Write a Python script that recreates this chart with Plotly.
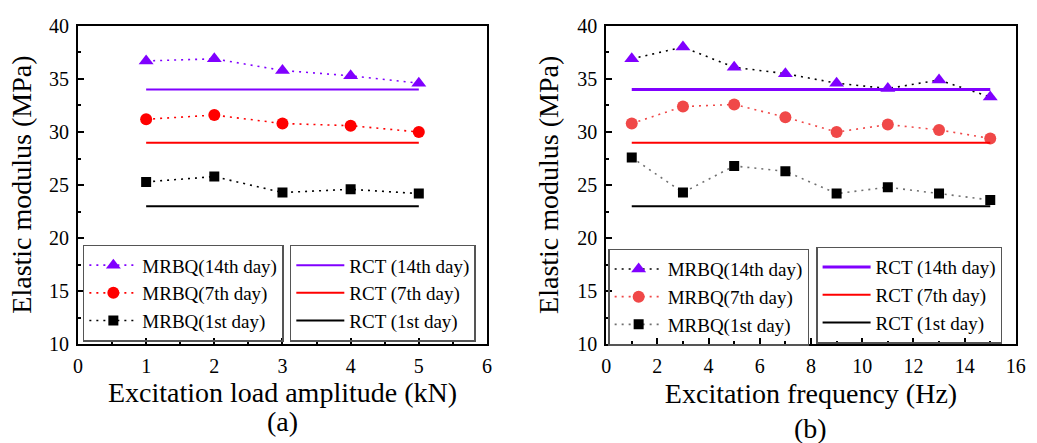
import plotly.graph_objects as go

# ---- data ----
amp_x = [1, 2, 3, 4, 5]
amp_14 = [36.7, 36.9, 35.8, 35.3, 34.6]
amp_7 = [31.2, 31.6, 30.8, 30.6, 30.0]
amp_1 = [25.3, 25.8, 24.3, 24.6, 24.2]

freq_x = [1, 3, 5, 7, 9, 11, 13, 15]
freq_14 = [36.9, 38.0, 36.1, 35.5, 34.6, 34.1, 34.9, 33.3]
freq_7 = [30.8, 32.4, 32.6, 31.4, 30.0, 30.7, 30.2, 29.4]
freq_1 = [27.6, 24.3, 26.8, 26.3, 24.2, 24.8, 24.2, 23.6]

rct_14 = 34
rct_7 = 29
rct_1 = 23

names_mrbq = ["MRBQ(14th day)", "MRBQ(7th day)", "MRBQ(1st day)"]
names_rct = ["RCT (14th day)", "RCT (7th day)", "RCT (1st day)"]

PURPLE = "#8000FF"
RED = "#FF0000"
LRED = "#F04848"
BLACK = "#000000"
FONT = "Liberation Serif"
DOT = "2px,5px"

fig = go.Figure()

def mrbq(x, y, name, mcolor, lcolor, symbol, size, xa, ya, legend):
    fig.add_trace(go.Scatter(
        x=x, y=y, name=name, mode="lines+markers",
        line=dict(color=lcolor, width=1.6, dash=DOT),
        marker=dict(color=mcolor, symbol=symbol, size=size),
        xaxis=xa, yaxis=ya, legend=legend))

def rct(x0, x1, v, name, color, width, xa, ya, legend):
    fig.add_trace(go.Scatter(
        x=[x0, x1], y=[v, v], name=name, mode="lines",
        line=dict(color=color, width=width),
        xaxis=xa, yaxis=ya, legend=legend))

# panel (a)
mrbq(amp_x, amp_14, names_mrbq[0], PURPLE, PURPLE, "triangle-up", 13, "x", "y", "legend")
mrbq(amp_x, amp_7, names_mrbq[1], RED, RED, "circle", 12, "x", "y", "legend")
mrbq(amp_x, amp_1, names_mrbq[2], BLACK, BLACK, "square", 10, "x", "y", "legend")
rct(amp_x[0], amp_x[-1], rct_14, names_rct[0], PURPLE, 2, "x", "y", "legend2")
rct(amp_x[0], amp_x[-1], rct_7, names_rct[1], RED, 2, "x", "y", "legend2")
rct(amp_x[0], amp_x[-1], rct_1, names_rct[2], BLACK, 2, "x", "y", "legend2")

# panel (b)
mrbq(freq_x, freq_14, names_mrbq[0], PURPLE, BLACK, "triangle-up", 13, "x2", "y2", "legend3")
mrbq(freq_x, freq_7, names_mrbq[1], LRED, LRED, "circle", 12, "x2", "y2", "legend3")
mrbq(freq_x, freq_1, names_mrbq[2], BLACK, "#707070", "square", 10, "x2", "y2", "legend3")
rct(freq_x[0], freq_x[-1], rct_14, names_rct[0], PURPLE, 3, "x2", "y2", "legend4")
rct(freq_x[0], freq_x[-1], rct_7, names_rct[1], RED, 2, "x2", "y2", "legend4")
rct(freq_x[0], freq_x[-1], rct_1, names_rct[2], BLACK, 2, "x2", "y2", "legend4")

def axis(**kw):
    d = dict(
        showline=True, linecolor="black", linewidth=2, mirror=True,
        ticks="inside", ticklen=6, tickwidth=1.5, tickcolor="black",
        showgrid=False, zeroline=False, ticklabelstandoff=3,
        tickfont=dict(family=FONT, size=20, color="black"),
    )
    d.update(kw)
    return d

TFONT = dict(family=FONT, size=28, color="black")
ydom = [0.2084, 0.9646]
fig.update_layout(
    width=1037, height=443,
    margin=dict(l=0, r=0, t=0, b=0),
    paper_bgcolor="white", plot_bgcolor="white",
    font=dict(family=FONT, color="black"),
    xaxis=axis(domain=[0.0714, 0.4716], range=[0, 6], dtick=1,
               minor=dict(ticks="inside", ticklen=3, dtick=0.5, tickcolor="black"),
               title=dict(text="Excitation load amplitude (kN)", standoff=2, font=TFONT), anchor="y"),
    yaxis=axis(domain=ydom, range=[10, 40], dtick=5,
               minor=dict(ticks="inside", ticklen=3, dtick=2.5, tickcolor="black"),
               anchor="x"),
    xaxis2=axis(domain=[0.5882, 0.9891], range=[0, 16], dtick=2,
                minor=dict(ticks="inside", ticklen=3, dtick=1, tickcolor="black"),
                title=dict(text="Excitation frequency (Hz)", standoff=7, font=TFONT), anchor="y2"),
    yaxis2=axis(domain=ydom, range=[10, 40], dtick=5,
                minor=dict(ticks="inside", ticklen=3, dtick=2.5, tickcolor="black"),
                anchor="x2"),
)

# y-axis titles
for xpx in (17, 552):
    fig.add_annotation(text="Elastic modulus (MPa)", textangle=-90,
                       x=xpx / 1037, y=1 - 183 / 443, xref="paper", yref="paper",
                       xanchor="center", yanchor="middle", showarrow=False, font=TFONT)

leg_common = dict(
    font=dict(family=FONT, size=19, color="black"),
    bgcolor="rgba(255,255,255,0)", bordercolor="#555555", borderwidth=1.5,
    xanchor="left", yanchor="top", itemwidth=48, tracegroupgap=0,
    traceorder="normal",
)
fig.update_layout(
    legend=dict(leg_common, x=79 / 1037, y=1 - 246 / 443),
    legend2=dict(leg_common, x=289 / 1037, y=1 - 246 / 443),
    legend3=dict(leg_common, x=612 / 1037, y=1 - 250 / 443),
    legend4=dict(leg_common, x=823 / 1037, y=1 - 248 / 443),
    showlegend=True,
)

fig.add_annotation(text="(a)", x=0.2715, y=1 - 432 / 443, xref="paper", yref="paper",
                   xanchor="center", yanchor="middle",
                   showarrow=False, font=TFONT)
fig.add_annotation(text="(b)", x=0.7886, y=1 - 439 / 443, xref="paper", yref="paper",
                   xanchor="center", yanchor="middle",
                   showarrow=False, font=TFONT)

fig.write_html("out.html")
